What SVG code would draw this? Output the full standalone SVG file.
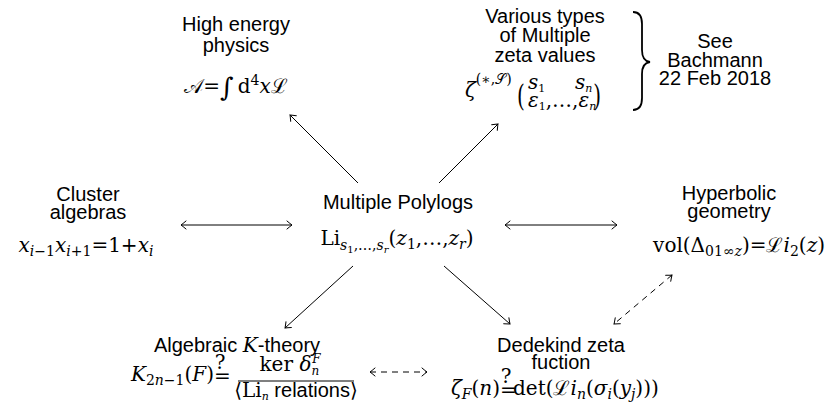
<svg xmlns="http://www.w3.org/2000/svg" width="827" height="406" viewBox="0 0 827 406">
<style>
.t{font-family:"Liberation Sans",Arial,sans-serif;font-size:20px;text-anchor:middle;fill:#000}
.m{font-family:"DejaVu Serif","Liberation Serif",serif;font-size:20px;fill:#000}
.mid{text-anchor:middle}
.end{text-anchor:end}
.i{font-style:italic}
.s{font-size:14px}
.ss{font-size:10px}
.c{fill:none;stroke:#000;stroke-width:1}
.d{stroke-dasharray:6 5}
</style>
<defs>
<marker id="ah" markerUnits="userSpaceOnUse" viewBox="-7 -5 9 10" refX="0" refY="0" markerWidth="9" markerHeight="10" orient="auto-start-reverse">
<path d="M -5 -4 Q -1.5 -1 0 0 Q -1.5 1 -5 4" fill="none" stroke="#000" stroke-width="1" stroke-linecap="round"/>
</marker>
</defs>

<g id="connectors">
<line class="c" x1="358" y1="183" x2="290" y2="115" marker-end="url(#ah)"/>
<line class="c" x1="439" y1="183" x2="498" y2="124" marker-end="url(#ah)"/>
<line class="c" x1="181" y1="225" x2="292" y2="225" marker-start="url(#ah)" marker-end="url(#ah)"/>
<line class="c" x1="505" y1="225" x2="617" y2="225" marker-start="url(#ah)" marker-end="url(#ah)"/>
<line class="c" x1="353" y1="266" x2="285" y2="328" marker-end="url(#ah)"/>
<line class="c" x1="444" y1="266" x2="510" y2="324" marker-end="url(#ah)"/>
<line class="c d" x1="672" y1="275" x2="614" y2="324" marker-start="url(#ah)" marker-end="url(#ah)"/>
<line class="c d" x1="370" y1="372" x2="427" y2="372" marker-start="url(#ah)" marker-end="url(#ah)"/>
</g>

<g id="high-energy">
<text class="t" x="236" y="31">High energy</text>
<text class="t" x="236" y="52">physics</text>
<text class="m mid" x="236" y="93"><tspan>𝒜</tspan><tspan>=</tspan><tspan font-size="26" dy="3">∫</tspan><tspan dx="4" dy="-3">d</tspan><tspan class="s" dy="-8">4</tspan><tspan class="i" dy="8">x</tspan><tspan>ℒ</tspan></text>
</g>

<g id="mzv">
<text class="t" x="545" y="23">Various types</text>
<text class="t" x="545" y="42">of Multiple</text>
<text class="t" x="545" y="62">zeta values</text>
<text class="m" x="465" y="97"><tspan class="i">ζ</tspan><tspan class="s" dy="-13">(∗,𝒮)</tspan></text>
<text class="m" font-size="30" transform="translate(517,106) scale(1,1.45)">(</text>
<text class="m end" font-size="30" transform="translate(601,106) scale(1,1.45)">)</text>
<text class="m" x="528" y="89" font-size="16"><tspan class="i">s</tspan><tspan font-size="11" dy="3">1</tspan></text>
<text class="m" x="575" y="89" font-size="16"><tspan class="i">s</tspan><tspan font-size="11" dy="3" class="i">n</tspan></text>
<text class="m" x="528" y="107" font-size="16" font-family="Liberation Serif,serif"><tspan class="i">ε</tspan><tspan font-size="11" dy="3">1</tspan><tspan dy="-3">,…,</tspan><tspan class="i">ε</tspan><tspan font-size="11" dy="3" class="i">n</tspan></text>
<path d="M 633 12 Q 642 12 642 24 L 642 50 Q 642 61 650 62 Q 642 63 642 74 L 642 98 Q 642 110 633 110" fill="none" stroke="#000" stroke-width="1.8"/>
<text class="t" x="715" y="48">See</text>
<text class="t" x="715" y="67">Bachmann</text>
<text class="t" x="715" y="85">22 Feb 2018</text>
</g>

<g id="cluster">
<text class="t" x="88" y="201">Cluster</text>
<text class="t" x="88" y="219">algebras</text>
<text class="m mid" x="86" y="252"><tspan class="i">x</tspan><tspan class="s i" dy="4">i</tspan><tspan class="s">−1</tspan><tspan class="i" dy="-4">x</tspan><tspan class="s i" dy="4">i</tspan><tspan class="s">+1</tspan><tspan dy="-4">=1+</tspan><tspan class="i">x</tspan><tspan class="s i" dy="4">i</tspan></text>
</g>

<g id="polylogs">
<text class="t" x="398" y="209">Multiple Polylogs</text>
<text class="m mid" x="397" y="245"><tspan>Li</tspan><tspan class="s i" dy="5">s</tspan><tspan class="ss" dy="3">1</tspan><tspan class="s" dy="-3">,…,</tspan><tspan class="s i">s</tspan><tspan class="ss i" dy="3">r</tspan><tspan dy="-8">(</tspan><tspan class="i">z</tspan><tspan class="s" dy="4">1</tspan><tspan dy="-4">,…,</tspan><tspan class="i">z</tspan><tspan class="s i" dy="4">r</tspan><tspan dy="-4">)</tspan></text>
</g>

<g id="hyperbolic">
<text class="t" x="729" y="200">Hyperbolic</text>
<text class="t" x="729" y="218">geometry</text>
<text class="m end" x="825" y="252"><tspan>vol(Δ</tspan><tspan class="s" dy="4">01∞</tspan><tspan class="s i">z</tspan><tspan dy="-4">)=ℒ</tspan><tspan class="i">i</tspan><tspan class="s" dy="4">2</tspan><tspan dy="-4">(</tspan><tspan class="i">z</tspan><tspan>)</tspan></text>
</g>

<g id="ktheory">
<text class="t" x="237" y="352">Algebraic <tspan font-family="DejaVu Serif,serif" font-style="italic">K</tspan>-theory</text>
<text class="m end" x="214" y="381"><tspan class="i">K</tspan><tspan class="s" dy="4">2</tspan><tspan class="s i">n</tspan><tspan class="s">−1</tspan><tspan dy="-4">(</tspan><tspan class="i">F</tspan><tspan>)</tspan></text>
<text class="m" x="214" y="383" font-family="Liberation Serif" font-size="20">=</text>
<text class="m mid" x="220" y="369" font-size="11">?</text>
<text class="m mid" x="290" y="371" font-size="17"><tspan>ker </tspan><tspan class="i">δ</tspan><tspan font-size="12" class="i" dy="4">n</tspan><tspan font-size="12" class="i" dx="-7" dy="-12">F</tspan></text>
<line x1="238" y1="381" x2="354" y2="381" stroke="#000" stroke-width="1"/>
<text class="m mid" x="296" y="397" font-size="16"><tspan>⟨Li</tspan><tspan font-size="11" class="i" dy="3">n</tspan><tspan font-family="Liberation Sans,Arial,sans-serif" dy="-3"> relations</tspan><tspan>⟩</tspan></text>
</g>

<g id="dedekind">
<text class="t" x="561" y="352">Dedekind zeta</text>
<text class="t" x="561" y="369">fuction</text>
<text class="m end" x="500" y="395"><tspan class="i">ζ</tspan><tspan class="s i" dy="4">F</tspan><tspan dy="-4">(</tspan><tspan class="i">n</tspan><tspan>)</tspan></text>
<text class="m" x="500" y="397" font-family="Liberation Serif" font-size="20">=</text>
<text class="m mid" x="506" y="383" font-size="11">?</text>
<text class="m" x="513" y="395"><tspan>det(ℒ</tspan><tspan class="i">i</tspan><tspan class="s i" dy="4">n</tspan><tspan dy="-4">(</tspan><tspan class="i">σ</tspan><tspan class="s i" dy="4">i</tspan><tspan dy="-4">(</tspan><tspan class="i">y</tspan><tspan class="s i" dy="4">j</tspan><tspan dy="-4">)))</tspan></text>
</g>
</svg>
